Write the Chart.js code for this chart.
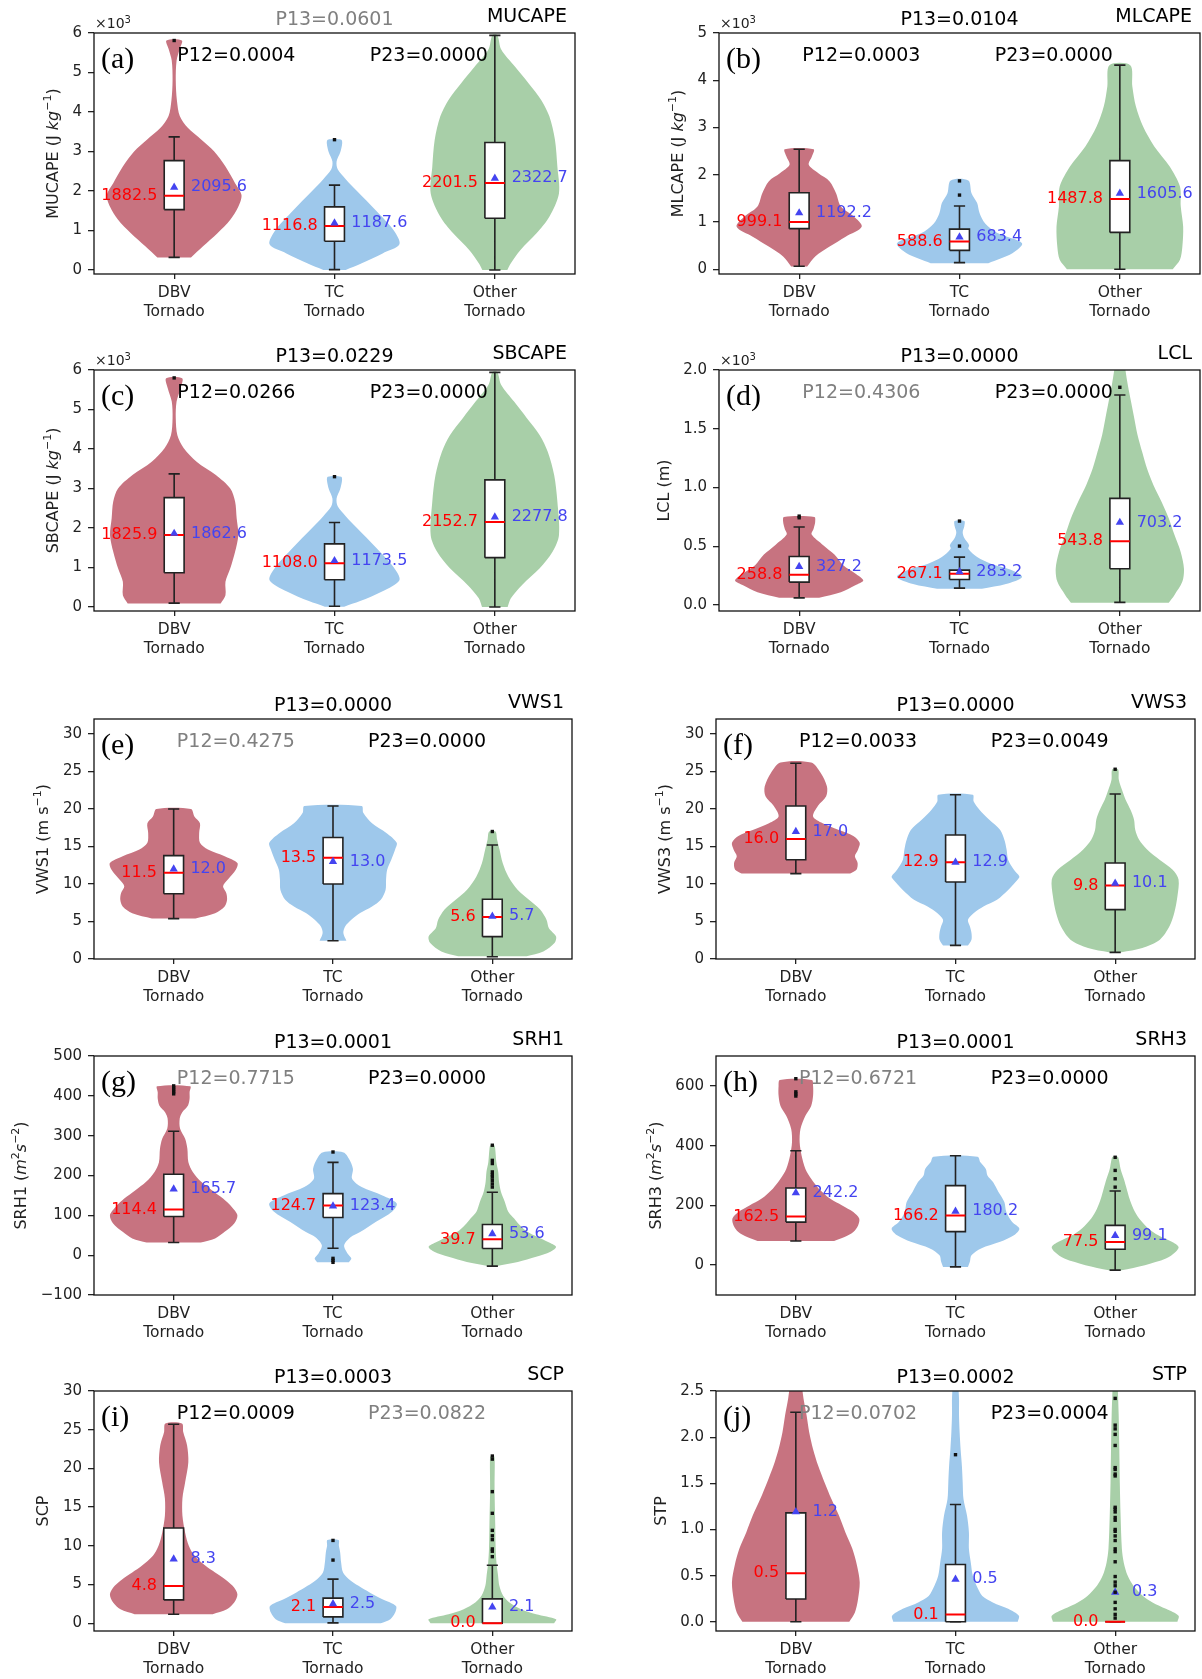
<!DOCTYPE html>
<html>
<head>
<meta charset="utf-8">
<script src="https://cdn.jsdelivr.net/npm/chart.js@4.4.1/dist/chart.umd.min.js"></script>
<style>
  html, body { margin: 0; padding: 0; background: #fff; }
  #page { position: relative; width: 1202px; height: 1679px; overflow: hidden; background: #fff; }
  #page canvas { position: absolute; }
</style>
</head>
<body>
<div id="page"></div>
<script>
const categories = [['DBV', 'Tornado'], ['TC', 'Tornado'], ['Other', 'Tornado']];

// (a) MUCAPE  -- violin profiles are [value, half width]
const aTicks = [0, 1000, 2000, 3000, 4000, 5000, 6000];
const aDbv = [[320,0.105],[600,0.18],[930,0.27],[1270,0.35],[1600,0.40],[1900,0.42],[2200,0.38],[2620,0.32],[3000,0.25],[3300,0.17],[3600,0.085],[3900,0.035],[4300,0.017],[4800,0.01],[5300,0.015],[5600,0.035],[5810,0.048]];
const aTc = [[0,0.07],[170,0.17],[420,0.3],[650,0.405],[1000,0.37],[1500,0.26],[2000,0.14],[2300,0.07],[2550,0.02],[2750,0.013],[2980,0.036],[3210,0.048],[3300,0.042]];
const aOther = [[0,0.078],[170,0.1],[510,0.16],[930,0.26],[1350,0.34],[1940,0.40],[2620,0.39],[3300,0.375],[3890,0.34],[4300,0.29],[4730,0.21],[5150,0.125],[5580,0.04],[5950,0.015]];
const aBoxes = [[320,1530,1882.5,2770,3370],[10,730,1116.8,1600,2150],[0,1310,2201.5,3230,5940]];
const aMeans = [2095.6, 1187.6, 2322.7];
const aOutliers = [[5810], [3300], []];
const aP = [0.0601, 0.0004, 0.0000];

// (b) MLCAPE
const bTicks = [0, 1000, 2000, 3000, 4000, 5000];
const bDbv = [[60,0.05],[270,0.1],[480,0.19],[690,0.29],[900,0.39],[1120,0.34],[1330,0.26],[1610,0.23],[1860,0.19],[2030,0.12],[2210,0.06],[2390,0.08],[2540,0.09]];
const bTc = [[130,0.18],[340,0.33],[550,0.39],[760,0.24],[970,0.16],[1190,0.125],[1400,0.11],[1610,0.075],[1880,0.055]];
const bOther = [[0,0.33],[200,0.375],[480,0.39],[900,0.395],[1330,0.38],[1750,0.375],[2180,0.31],[2600,0.215],[3020,0.145],[3450,0.1],[3870,0.078],[4320,0.065]];
const bBoxes = [[64,860,999.1,1620,2540],[140,400,588.6,850,1340],[0,780,1487.8,2300,4320]];
const bMeans = [1192.2, 683.4, 1605.6];
const bOutliers = [[], [1570, 1870], []];
const bP = [0.0104, 0.0003, 0.0000];

// (c) SBCAPE
const cTicks = [0, 1000, 2000, 3000, 4000, 5000, 6000];
const cDbv = [[90,0.29],[300,0.32],[640,0.32],[980,0.35],[1400,0.38],[1820,0.40],[2240,0.39],[2670,0.38],[3000,0.35],[3340,0.26],[3680,0.14],[4020,0.06],[4350,0.02],[4780,0.01],[5200,0.015],[5540,0.04],[5790,0.05]];
const cTc = [[10,0.06],[150,0.16],[400,0.3],[680,0.405],[1000,0.37],[1500,0.26],[2000,0.14],[2300,0.07],[2550,0.02],[2750,0.013],[2980,0.035],[3200,0.047],[3300,0.042]];
const cOther = [[0,0.08],[220,0.1],[560,0.17],[980,0.28],[1400,0.36],[1820,0.40],[2670,0.39],[3340,0.37],[3930,0.33],[4350,0.28],[4780,0.2],[5200,0.12],[5620,0.04],[5950,0.015]];
const cBoxes = [[100,870,1825.9,2770,3370],[20,690,1108.0,1600,2140],[0,1250,2152.7,3220,5940]];
const cMeans = [1862.6, 1173.5, 2277.8];
const cOutliers = [[5800], [3300], []];
const cP = [0.0229, 0.0266, 0.0000];

// (d) LCL
const dTicks = [0, 500, 1000, 1500, 2000];
const dDbv = [[62,0.125],[110,0.26],[170,0.35],[210,0.40],[270,0.35],[340,0.275],[430,0.22],[510,0.15],[600,0.078],[650,0.09],[710,0.10],[750,0.095]];
const dTc = [[140,0.14],[180,0.29],[240,0.39],[300,0.32],[350,0.2],[410,0.11],[480,0.055],[510,0.06],[570,0.03],[620,0.02],[670,0.03],[715,0.03]];
const dOther = [[20,0.305],[85,0.34],[200,0.39],[310,0.40],[450,0.38],[600,0.34],[740,0.305],[880,0.26],[1020,0.21],[1160,0.17],[1300,0.14],[1450,0.11],[1590,0.09],[1730,0.07],[1870,0.05],[2000,0.035],[2100,0.025]];
const dBoxes = [[62,196,258.8,414,664],[145,218,267.1,298,408],[23,309,543.8,908,1787]];
const dMeans = [327.2, 283.2, 703.2];
const dOutliers = [[743, 757], [502, 715], [1853]];
const dP = [0.0000, 0.4306, 0.0000];

// (e) VWS1
const eTicks = [0, 5, 10, 15, 20, 25, 30];
const eDbv = [[5.4,0.137],[6.1,0.26],[7.0,0.32],[7.9,0.335],[8.8,0.33],[9.7,0.31],[10.6,0.34],[11.9,0.39],[12.8,0.40],[13.7,0.32],[14.6,0.215],[15.5,0.165],[16.8,0.16],[18.1,0.165],[19.0,0.13],[20.0,0.108]];
const eTc = [[2.44,0.084],[3.47,0.065],[4.36,0.077],[5.24,0.115],[6.13,0.17],[7.0,0.245],[7.9,0.30],[9.2,0.33],[10.6,0.333],[11.9,0.34],[13.2,0.365],[14.6,0.39],[15.5,0.40],[16.8,0.335],[18.1,0.245],[19.5,0.19],[20.4,0.18]];
const eOther = [[0.36,0.215],[1.0,0.32],[2.13,0.39],[3.0,0.40],[4.1,0.355],[5.24,0.34],[6.6,0.30],[7.9,0.23],[9.2,0.16],[11.0,0.1],[12.8,0.065],[14.6,0.045],[15.9,0.03],[17.0,0.02]];
const eBoxes = [[5.38,8.71,11.5,13.78,20.0],[2.44,10.0,13.5,16.2,20.4],[0.31,2.98,5.6,7.96,15.2]];
const eMeans = [12.0, 13.0, 5.7];
const eOutliers = [[], [], [17.0]];
const eP = [0.0000, 0.4275, 0.0000];

// (f) VWS3
const fTicks = [0, 5, 10, 15, 20, 25, 30];
const fDbv = [[11.4,0.34],[11.9,0.38],[12.8,0.387],[13.7,0.37],[14.6,0.39],[15.5,0.40],[16.4,0.36],[17.2,0.27],[18.1,0.168],[19.0,0.108],[20.4,0.138],[21.7,0.19],[23.0,0.195],[24.8,0.156],[26.2,0.096]];
const fTc = [[1.8,0.078],[2.58,0.1],[3.47,0.1],[4.36,0.09],[5.24,0.078],[6.13,0.115],[7.0,0.175],[7.9,0.26],[9.2,0.33],[10.6,0.39],[11.0,0.40],[11.9,0.366],[13.2,0.33],[14.6,0.32],[15.9,0.306],[17.2,0.28],[18.6,0.21],[19.9,0.15],[21.0,0.114],[21.9,0.108]];
const fOther = [[0.9,0.04],[1.47,0.17],[2.58,0.28],[4.36,0.34],[6.13,0.37],[8.36,0.39],[10.6,0.397],[11.9,0.36],[13.2,0.28],[14.6,0.2],[15.9,0.15],[17.2,0.126],[18.6,0.118],[19.9,0.096],[21.2,0.066],[22.6,0.042],[23.9,0.023],[25.3,0.018]];
const fBoxes = [[11.38,13.24,16.0,20.4,26.1],[1.82,10.27,12.9,16.53,21.9],[0.89,6.58,9.8,12.8,22.0]];
const fMeans = [17.0, 12.9, 10.1];
const fOutliers = [[], [], [25.3]];
const fP = [0.0000, 0.0033, 0.0049];

// (g) SRH1
const gTicks = [-100, 0, 100, 200, 300, 400, 500];
const gDbv = [[31.7,0.17],[41.8,0.26],[58.5,0.32],[79.4,0.38],[100,0.40],[121,0.365],[142,0.31],[163,0.24],[184,0.173],[209,0.12],[234,0.092],[267,0.086],[292,0.072],[318,0.04],[343,0.038],[359,0.054],[376,0.09],[393,0.1],[409,0.1],[424,0.104]];
const gTc = [[-18,0.1],[-8,0.115],[5,0.09],[25,0.07],[45,0.11],[58,0.17],[84,0.27],[109,0.37],[130,0.40],[150,0.31],[171,0.18],[192,0.12],[217,0.125],[242,0.1],[258,0.066]];
const gOther = [[-27,0.03],[-17,0.16],[-4,0.275],[8.4,0.365],[21,0.40],[33,0.35],[46,0.28],[58.5,0.22],[75,0.173],[92,0.137],[109,0.1],[134,0.078],[159,0.054],[184,0.042],[209,0.037],[234,0.025],[267,0.018],[276,0.012]];
const gBoxes = [[31.8,96.9,114.4,203,311],[17.5,94.4,124.7,154.6,233],[-27.6,16.7,39.7,76.9,158]];
const gMeans = [165.7, 123.4, 53.6];
const gOutliers = [[405,410,415,420,425], [-18,-13,-8,259], [171,179,188,196,202,209,230,238,276]];
const gP = [0.0001, 0.7715, 0.0000];

// (h) SRH3
const hTicks = [0, 200, 400, 600];
const hDbv = [[81,0.24],[94,0.305],[111,0.36],[133,0.39],[156,0.397],[178,0.36],[200,0.29],[222,0.216],[256,0.144],[289,0.096],[322,0.06],[367,0.036],[411,0.024],[456,0.029],[500,0.06],[533,0.096],[567,0.108],[600,0.108],[620,0.1]];
const hTc = [[-6,0.078],[11,0.09],[33,0.1],[56,0.16],[78,0.28],[100,0.366],[122,0.40],[144,0.355],[178,0.318],[211,0.306],[244,0.27],[278,0.235],[300,0.2],[322,0.19],[344,0.156],[363,0.138]];
const hOther = [[-17,0.04],[0,0.186],[22,0.318],[44,0.378],[61,0.397],[78,0.355],[100,0.27],[122,0.21],[156,0.15],[189,0.114],[222,0.09],[256,0.072],[289,0.054],[322,0.034],[356,0.022],[363,0.015]];
const hBoxes = [[81,144,162.5,258,383],[-6,112,166.2,266,366],[-16.7,53,77.5,133,248]];
const hMeans = [242.2, 180.2, 99.1];
const hOutliers = [[566,573,580,624], [], [261,289,317,361]];
const hP = [0.0001, 0.6721, 0.0000];

// (i) SCP
const iTicks = [0, 5, 10, 15, 20, 25, 30];
const iDbv = [[1.17,0.245],[1.81,0.334],[2.68,0.38],[3.75,0.40],[4.83,0.37],[5.7,0.322],[6.56,0.26],[7.42,0.2],[8.72,0.13],[10.0,0.095],[11.7,0.072],[13.9,0.055],[16.1,0.055],[18.2,0.072],[20.8,0.092],[23.0,0.084],[24.7,0.06],[25.8,0.052]];
const iTc = [[0,0.3],[0.52,0.36],[1.38,0.39],[2.24,0.395],[3.1,0.31],[3.97,0.23],[4.83,0.16],[5.7,0.1],[6.56,0.063],[7.85,0.051],[9.15,0.045],[10.0,0.037],[10.75,0.035]];
const iOther = [[0,0.388],[0.52,0.40],[1.17,0.275],[1.81,0.18],[2.68,0.107],[3.54,0.068],[4.83,0.044],[6.13,0.036],[7.85,0.026],[9.6,0.021],[13.0,0.018],[17.4,0.014],[21.2,0.015],[21.6,0.01]];
const iBoxes = [[1.17,3.02,4.8,12.3,25.7],[0.05,0.82,2.1,3.24,5.7],[0,0,0.0,3.15,7.5]];
const iMeans = [8.3, 2.5, 2.1];
const iOutliers = [[], [8.16, 10.7], [8.6,9.3,9.6,10.8,11.3,12.0,14.2,17.0,21.2,21.6]];
const iP = [0.0003, 0.0009, 0.0822];

// (j) STP
const jTicks = [0, 0.5, 1.0, 1.5, 2.0, 2.5];
const jDbv = [[0,0.335],[0.1,0.37],[0.25,0.39],[0.43,0.40],[0.61,0.383],[0.79,0.354],[0.97,0.31],[1.15,0.27],[1.33,0.223],[1.51,0.18],[1.69,0.14],[1.87,0.108],[2.05,0.084],[2.24,0.067],[2.42,0.048],[2.6,0.035],[2.8,0.025]];
const jTc = [[0,0.39],[0.065,0.397],[0.14,0.33],[0.21,0.234],[0.28,0.168],[0.39,0.132],[0.5,0.108],[0.64,0.096],[0.79,0.084],[0.97,0.084],[1.15,0.072],[1.33,0.05],[1.51,0.045],[1.69,0.04],[1.87,0.032],[2.05,0.026],[2.24,0.022],[2.42,0.022],[2.6,0.016],[2.8,0.012]];
const jOther = [[0,0.39],[0.065,0.397],[0.14,0.318],[0.21,0.234],[0.28,0.174],[0.39,0.114],[0.5,0.078],[0.64,0.054],[0.79,0.042],[1.15,0.034],[1.51,0.029],[1.87,0.026],[2.24,0.022],[2.5,0.017],[2.7,0.012]];
const jBoxes = [[0,0.246,0.525,1.18,2.27],[0,0,0.08,0.62,1.27],[0,0,0,0,0]];
const jMeans = [1.19, 0.46, 0.32];
const jOutliers = [[], [1.81], [0.04,0.08,0.14,0.21,0.32,0.39,0.43,0.49,0.65,0.76,0.79,0.88,0.93,0.98,1.0,1.1,1.13,1.19,1.22,1.24,1.58,1.6,1.65,1.67,1.91,2.03,2.09,2.13,2.42]];
const jP = [0.0002, 0.0702, 0.0004];

const thousands = v => String(v / 1000);
const oneDec = v => v.toFixed(1);
const plain = v => (v < 0 ? '\u2212' + Math.abs(v) : String(v));
const capeLabel = n => [[n + ' (J ', 'n'], ['kg', 'i'], ['\u22121', 's'], [')', 'n']];
const vwsLabel = n => [[n + ' (m s', 'n'], ['\u22121', 's'], [')', 'n']];
const srhLabel = n => [[n + ' (', 'n'], ['m', 'i'], ['2', 's'], ['s', 'i'], ['\u22122', 's'], [')', 'n']];

const panels = [
  {tag: '(a)', name: 'MUCAPE', label: capeLabel('MUCAPE'), sci: true, min: -100, max: 6000, ticks: aTicks, fmt: thousands,
   violins: [aDbv, aTc, aOther], boxes: aBoxes, means: aMeans, outliers: aOutliers, p: aP, area: [94, 33, 575, 274]},
  {tag: '(b)', name: 'MLCAPE', label: capeLabel('MLCAPE'), sci: true, min: -100, max: 5000, ticks: bTicks, fmt: thousands,
   violins: [bDbv, bTc, bOther], boxes: bBoxes, means: bMeans, outliers: bOutliers, p: bP, area: [719, 33, 1200, 274]},
  {tag: '(c)', name: 'SBCAPE', label: capeLabel('SBCAPE'), sci: true, min: -100, max: 6000, ticks: cTicks, fmt: thousands,
   violins: [cDbv, cTc, cOther], boxes: cBoxes, means: cMeans, outliers: cOutliers, p: cP, area: [94, 370, 575, 611]},
  {tag: '(d)', name: 'LCL', label: [['LCL (m)', 'n']], sci: true, min: -50, max: 2000, ticks: dTicks, fmt: v => (v / 1000).toFixed(1),
   violins: [dDbv, dTc, dOther], boxes: dBoxes, means: dMeans, outliers: dOutliers, p: dP, area: [719, 370, 1200, 611]},
  {tag: '(e)', name: 'VWS1', label: vwsLabel('VWS1'), sci: false, min: 0, max: 32, ticks: eTicks, fmt: plain,
   violins: [eDbv, eTc, eOther], boxes: eBoxes, means: eMeans, outliers: eOutliers, p: eP, area: [94, 719, 572, 959]},
  {tag: '(f)', name: 'VWS3', label: vwsLabel('VWS3'), sci: false, min: 0, max: 32, ticks: fTicks, fmt: plain,
   violins: [fDbv, fTc, fOther], boxes: fBoxes, means: fMeans, outliers: fOutliers, p: fP, area: [716, 719, 1195, 959]},
  {tag: '(g)', name: 'SRH1', label: srhLabel('SRH1'), sci: false, min: -100, max: 500, ticks: gTicks, fmt: plain,
   violins: [gDbv, gTc, gOther], boxes: gBoxes, means: gMeans, outliers: gOutliers, p: gP, area: [94, 1056, 572, 1295]},
  {tag: '(h)', name: 'SRH3', label: srhLabel('SRH3'), sci: false, min: -100, max: 700, ticks: hTicks, fmt: plain,
   violins: [hDbv, hTc, hOther], boxes: hBoxes, means: hMeans, outliers: hOutliers, p: hP, area: [716, 1056, 1195, 1295]},
  {tag: '(i)', name: 'SCP', label: [['SCP', 'n']], sci: false, min: -1, max: 30, ticks: iTicks, fmt: plain,
   violins: [iDbv, iTc, iOther], boxes: iBoxes, means: iMeans, outliers: iOutliers, p: iP, area: [94, 1391, 572, 1631]},
  {tag: '(j)', name: 'STP', label: [['STP', 'n']], sci: false, min: -0.1, max: 2.5, ticks: jTicks, fmt: oneDec,
   violins: [jDbv, jTc, jOther], boxes: jBoxes, means: jMeans, outliers: jOutliers, p: jP, area: [716, 1391, 1195, 1631]}
];

const FONT = "'DejaVu Sans'";
const violinColors = ['rgb(199,115,128)', 'rgb(158,200,235)', 'rgb(168,207,168)'];
const meanColor = 'rgb(68,68,240)';
const edge = '#222';
const BOX_HW = 0.062, CAP_HW = 0.035, LABEL_DX = 0.105;
const PAD_L = 96, PAD_T = 40, PAD_R = 15, X_H = 55;
const TICK_FONT = 15;

Chart.defaults.font.family = FONT;

function violinPath(c, shape) {
  const right = shape.map(([v, w]) => ({x: c + w, y: v}));
  const left = shape.slice().reverse().map(([v, w]) => ({x: c - w, y: v}));
  return right.concat(left);
}
function boxPath(c, s) {
  return [{x: c - BOX_HW, y: s[1]}, {x: c + BOX_HW, y: s[1]}, {x: c + BOX_HW, y: s[3]},
          {x: c - BOX_HW, y: s[3]}, {x: c - BOX_HW, y: s[1]}];
}
function whiskerPath(boxes) {
  const pts = [];
  boxes.forEach((s, i) => {
    const c = i + 1;
    pts.push({x: c, y: s[0]}, {x: c, y: s[1]}, {x: c, y: null},
             {x: c, y: s[3]}, {x: c, y: s[4]}, {x: c, y: null},
             {x: c - CAP_HW, y: s[0]}, {x: c + CAP_HW, y: s[0]}, {x: c, y: null},
             {x: c - CAP_HW, y: s[4]}, {x: c + CAP_HW, y: s[4]}, {x: c, y: null});
  });
  return pts;
}
function medianPath(boxes) {
  const pts = [];
  boxes.forEach((s, i) => {
    pts.push({x: i + 1 - BOX_HW, y: s[2]}, {x: i + 1 + BOX_HW, y: s[2]}, {x: i + 1, y: null});
  });
  return pts;
}

function richText(ctx, parts, size, x, y, rotate, align) {
  const fontFor = st => st === 'i' ? `italic ${size}px ${FONT}` : st === 's' ? `${Math.round(size * 0.7)}px ${FONT}` : `${size}px ${FONT}`;
  let total = 0;
  parts.forEach(([t, st]) => { ctx.font = fontFor(st); total += ctx.measureText(t).width; });
  ctx.save();
  ctx.translate(x, y);
  if (rotate) ctx.rotate(-Math.PI / 2);
  ctx.textAlign = 'left';
  let cx = align === 'left' ? 0 : -total / 2;
  parts.forEach(([t, st]) => {
    ctx.font = fontFor(st);
    ctx.fillText(t, cx, st === 's' ? -size * 0.38 : 0);
    cx += ctx.measureText(t).width;
  });
  ctx.restore();
}

function panelPlugin(p) {
  return {
    id: 'panelText',
    afterDraw(chart) {
      const {ctx, chartArea: a} = chart;
      const xs = chart.scales.x, ys = chart.scales.y;
      ctx.save();
      ctx.strokeStyle = '#111';
      ctx.lineWidth = 1.3;
      ctx.strokeRect(a.left, a.top, a.right - a.left, a.bottom - a.top);

      ctx.textBaseline = 'middle';
      ctx.font = `16px ${FONT}`;
      p.boxes.forEach((s, i) => {
        const c = i + 1;
        ctx.fillStyle = '#ff0000';
        ctx.textAlign = 'right';
        ctx.fillText(s[2].toFixed(1), xs.getPixelForValue(c - LABEL_DX), ys.getPixelForValue(s[2]));
        ctx.fillStyle = meanColor;
        ctx.textAlign = 'left';
        ctx.fillText(p.means[i].toFixed(1), xs.getPixelForValue(c + LABEL_DX), ys.getPixelForValue(p.means[i]));
      });

      const pText = v => v.toFixed(4);
      const pColor = v => (v > 0.05 ? '#808080' : '#000');
      ctx.font = `19px ${FONT}`;
      ctx.textAlign = 'center';
      ctx.fillStyle = pColor(p.p[0]);
      ctx.fillText('P13=' + pText(p.p[0]), (a.left + a.right) / 2, a.top - 13);
      ctx.textAlign = 'right';
      ctx.fillStyle = '#000';
      ctx.fillText(p.name, a.right - 8, a.top - 16);
      ctx.textAlign = 'left';
      ctx.fillStyle = pColor(p.p[1]);
      ctx.fillText('P12=' + pText(p.p[1]), xs.getPixelForValue(1.02), a.top + 23);
      ctx.fillStyle = pColor(p.p[2]);
      ctx.fillText('P23=' + pText(p.p[2]), xs.getPixelForValue(2.22), a.top + 23);

      ctx.fillStyle = '#000';
      ctx.font = `30px 'Liberation Serif'`;
      ctx.fillText(p.tag, a.left + 7, a.top + 27);

      ctx.fillStyle = '#222';
      if (p.sci) {
        ctx.textBaseline = 'alphabetic';
        richText(ctx, [['\u00d710', 'n'], ['3', 's']], 14, a.left + 1, a.top - 5, false, 'left');
        ctx.textBaseline = 'middle';
      }
      ctx.font = `${TICK_FONT}px ${FONT}`;
      let maxW = 0;
      ys.ticks.forEach(t => { maxW = Math.max(maxW, ctx.measureText(p.fmt(t.value)).width); });
      richText(ctx, p.label, 16, a.left - (maxW + 30.6), (a.top + a.bottom) / 2, true, 'center');
      ctx.restore();
    }
  };
}

const page = document.getElementById('page');
panels.forEach(p => {
  const [l, t, r, b] = p.area;
  const canvas = document.createElement('canvas');
  const W = r - l + PAD_L + PAD_R, H = b - t + PAD_T + X_H;
  canvas.width = W;
  canvas.height = H;
  canvas.style.left = (l - PAD_L) + 'px';
  canvas.style.top = (t - PAD_T) + 'px';
  page.appendChild(canvas);

  const datasets = [];
  p.violins.forEach((shape, i) => {
    datasets.push({type: 'line', data: violinPath(i + 1, shape), showLine: true, fill: 'shape',
      backgroundColor: violinColors[i], borderColor: 'rgba(0,0,0,0)', borderWidth: 0,
      pointRadius: 0, tension: 0.3, order: 6});
  });
  datasets.push({type: 'line', data: whiskerPath(p.boxes), showLine: true, fill: false, spanGaps: false,
    borderColor: edge, borderWidth: 1.6, pointRadius: 0, tension: 0, order: 5});
  p.boxes.forEach((s, i) => {
    datasets.push({type: 'line', data: boxPath(i + 1, s), showLine: true, fill: 'shape',
      backgroundColor: '#ffffff', borderColor: edge, borderWidth: 1.6, pointRadius: 0, tension: 0, order: 4});
  });
  datasets.push({type: 'line', data: medianPath(p.boxes), showLine: true, fill: false, spanGaps: false,
    borderColor: '#ff0000', borderWidth: 2, pointRadius: 0, tension: 0, order: 3});
  datasets.push({type: 'scatter', data: p.means.map((m, i) => ({x: i + 1, y: m})),
    pointStyle: 'triangle', pointRadius: 4.8, backgroundColor: meanColor, borderColor: meanColor, borderWidth: 0, order: 2});
  const out = [];
  p.outliers.forEach((vals, i) => vals.forEach(v => out.push({x: i + 1, y: v})));
  datasets.push({type: 'scatter', data: out, pointStyle: 'rect', pointRadius: 2.4,
    backgroundColor: '#111', borderWidth: 0, order: 1});

  new Chart(canvas, {
    type: 'scatter',
    data: {datasets},
    options: {
      responsive: false,
      animation: false,
      events: [],
      layout: {padding: {left: 0, top: PAD_T, right: PAD_R, bottom: 0}},
      plugins: {legend: {display: false}, tooltip: {enabled: false}},
      scales: {
        x: {
          type: 'linear', min: 0.5, max: 3.5,
          afterBuildTicks: s => { s.ticks = [1, 2, 3].map(v => ({value: v})); },
          afterFit: s => { s.height = X_H; },
          ticks: {callback: v => categories[Math.round(v) - 1], color: '#222', padding: 5,
                  maxRotation: 0, autoSkip: false, font: {size: 15.5, lineHeight: 1.2}},
          grid: {drawOnChartArea: false, tickLength: 5, color: edge, lineWidth: 1.3},
          border: {display: false}
        },
        y: {
          type: 'linear', min: p.min, max: p.max,
          afterBuildTicks: s => { s.ticks = p.ticks.map(v => ({value: v})); },
          afterFit: s => { s.width = PAD_L; },
          ticks: {callback: v => p.fmt(v), color: '#222', padding: 6, autoSkip: false, font: {size: TICK_FONT}},
          grid: {drawOnChartArea: false, tickLength: 6, color: edge, lineWidth: 1.3},
          border: {display: false}
        }
      }
    },
    plugins: [panelPlugin(p)]
  });
});
</script>
</body>
</html>
